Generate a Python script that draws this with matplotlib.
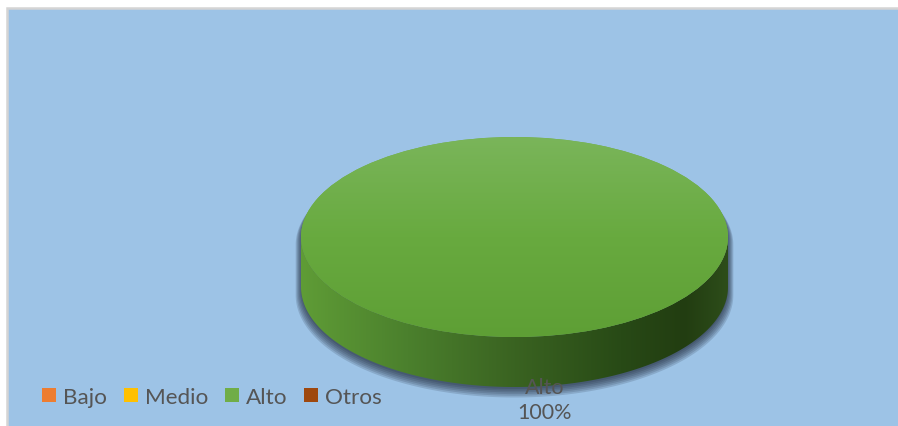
import numpy as np
import matplotlib
matplotlib.use("Agg")
from matplotlib import pyplot as plt
from matplotlib.patches import Rectangle, Polygon
from matplotlib.colors import LinearSegmentedColormap

labels = ["Bajo", "Medio", "Alto", "Otros"]
values = [0, 0, 100, 0]
colors = ["#ED7D31", "#FFC000", "#70AD47", "#9E480E"]

W, H = 898, 427
fig = plt.figure(figsize=(W / 100, H / 100), dpi=100)
fig.patch.set_facecolor("white")

# background panel in pixel coords
bg = fig.add_axes([0, 0, 1, 1])
bg.set_xlim(0, W)
bg.set_ylim(H, 0)
bg.axis("off")
bg.add_patch(Rectangle((6.5, 8.5), W, H, facecolor="#9DC3E6", edgecolor="#D4D4D4", lw=1.8))

# pie axes: ellipse center (514.5, 238) px, semi axes 213.5 x 100 px
cx, cy, rx, ry = 514.5, 238, 213.5, 100
xl, xr, yb, yt = -1.12, 1.12, -1.75, 1.12
left = cx + xl * rx
bottom_px = cy - yb * ry
ax = fig.add_axes([left / W, (H - bottom_px) / H, (xr - xl) * rx / W, (yt - yb) * ry / H])
ax.patch.set_alpha(0)

wedges, _ = ax.pie(values, colors=colors, startangle=90, counterclock=False,
                   radius=1, wedgeprops=dict(linewidth=0))
ax.set_aspect("auto")
for w in wedges:
    w.set_zorder(5)

depth = 0.5
t = np.linspace(np.pi, 2 * np.pi, 200)
lower = np.column_stack([np.cos(t), np.sin(t)])
side_pts = np.vstack([lower, (lower - [0, depth])[::-1]])

# soft shadow below the side
tt = np.linspace(0, 2 * np.pi, 300)
for k in range(6):
    g = 1.0 + 0.005 * k
    sh = 0.02 + 0.012 * k
    sil = np.vstack([np.column_stack([np.cos(tt[:150]) * g, np.sin(tt[:150]) - sh]),
                     np.column_stack([np.cos(tt[150:]) * g, np.sin(tt[150:]) * g - depth - sh])])
    ax.add_patch(Polygon(sil, closed=True, facecolor="#1b2436", edgecolor="none",
                         alpha=0.16, zorder=1))

side = Polygon(side_pts, closed=True, facecolor="none", edgecolor="none", zorder=3)
ax.add_patch(side)
side_cmap = LinearSegmentedColormap.from_list("side", [
    (0.0, "#5f9c36"), (0.25, "#4b802d"), (0.5, "#3a6321"),
    (0.75, "#284a16"), (0.9, "#223d11"), (1.0, "#2d4d1a")])
img = ax.imshow(np.linspace(0, 1, 256).reshape(1, -1), cmap=side_cmap, aspect="auto",
                extent=[-1, 1, -1 - depth, 0], zorder=3, interpolation="bilinear")
img.set_clip_path(side)

# top face gradient
top_cmap = LinearSegmentedColormap.from_list("top", ["#5e9f35", "#68aa3f", "#7ab55a"])
for w in wedges:
    if w.theta2 - w.theta1 > 0:
        timg = ax.imshow(np.linspace(0, 1, 256).reshape(-1, 1), cmap=top_cmap, aspect="auto",
                         origin="lower", extent=[-1, 1, -1, 1], zorder=6, interpolation="bilinear")
        timg.set_clip_path(w)

ax.set_xlim(xl, xr)
ax.set_ylim(yb, yt)
ax.axis("off")

total = sum(values)
i = int(np.argmax(values))
ax.text(0.143, -1.50, labels[i], ha="center", va="center", fontsize=15.5,
        family="Lato", color="#555555", zorder=10, clip_on=False)
ax.text(0.143, -1.755, f"{values[i] / total * 100:.0f}%", ha="center", va="center",
        fontsize=15.5, family="Lato", color="#555555", zorder=10, clip_on=False)

fig.legend(wedges, labels, loc="center left", bbox_to_anchor=(31 / W, 29 / H),
           ncol=4, frameon=False, borderpad=0, handlelength=0.62, handleheight=0.62,
           handletextpad=0.3, columnspacing=0.75,
           prop={"family": "Lato", "size": 16.2}, labelcolor="#555555")

fig.savefig("out.png", dpi=100, facecolor="white")
